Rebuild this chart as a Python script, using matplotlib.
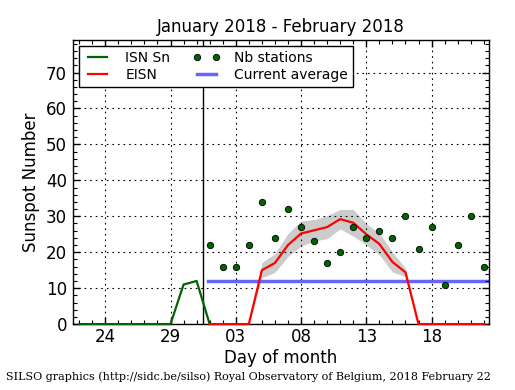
import matplotlib
matplotlib.use("Agg")
import matplotlib.pyplot as plt
from matplotlib.ticker import FixedLocator, MultipleLocator

# Day numbers: Jan = day of month, Feb = 31 + day of month
isn_days = list(range(22, 33))            # Jan 22 .. Feb 1
isn_sn = [0, 0, 0, 0, 0, 0, 0, 0, 11, 12, 0]

eisn_days = list(range(32, 54))           # Feb 1 .. Feb 22
eisn = [0, 0, 0, 0, 15, 17, 22, 25.2, 26.1, 27, 29.2, 28.2, 25, 22.3, 17.3, 14.4,
        0, 0, 0, 0, 0, 0]
eisn_err = [0, 0, 0, 0, 2.1, 2.6, 3.2, 3.5, 3.0, 3.2, 2.7, 3.7, 3.0, 3.0, 2.8, 1.2,
            0, 0, 0, 0, 0, 0]
nb_stations = [22, 16, 16, 22, 34, 24, 32, 27, 23, 17, 20, 27, 24, 26, 24, 30,
               21, 27, 11, 22, 30, 16]
current_average = 12.0

xtick_pos = [24, 29, 34, 39, 44, 49]
xtick_labels = ["24", "29", "03", "08", "13", "18"]
month_start = 31.5

fig = plt.figure(figsize=(5.15, 3.9), dpi=100)
ax = fig.add_axes([0.141, 0.169, 0.809, 0.728])

lo = [v - e for v, e in zip(eisn, eisn_err)]
hi = [v + e for v, e in zip(eisn, eisn_err)]
ax.fill_between(eisn_days, lo, hi, color="#cccccc", linewidth=0, zorder=1)

ax.plot(isn_days, isn_sn, color="#006400", lw=1.6, label="ISN Sn", zorder=3,
        clip_on=False)
ax.plot(eisn_days, eisn, color="red", lw=1.6, label="EISN", zorder=3,
        clip_on=False)
ax.plot(eisn_days, nb_stations, linestyle="none", marker="o", markersize=4.6,
        markerfacecolor="#006400", markeredgecolor="black", markeredgewidth=0.6,
        label="Nb stations", zorder=4)
ax.plot([month_start + 0.4, 54], [current_average, current_average],
        color="#6666ff", lw=2.5, label="Current average", zorder=2)
ax.axvline(month_start, color="black", lw=1, zorder=2)

ax.set_xlim(21.5, 53.42)
ax.set_ylim(0, 79)

ax.xaxis.set_major_locator(FixedLocator(xtick_pos))
ax.set_xticklabels(xtick_labels)
ax.xaxis.set_minor_locator(MultipleLocator(1))
ax.yaxis.set_major_locator(MultipleLocator(10))
ax.yaxis.set_minor_locator(MultipleLocator(2))
ax.tick_params(which="both", direction="in", top=True, right=True, labelsize=12)
ax.tick_params(which="major", length=5, width=1)
ax.tick_params(which="minor", length=3, width=0.8)
ax.tick_params(axis="x", pad=3)
ax.tick_params(axis="y", pad=4)
for s in ax.spines.values():
    s.set_linewidth(1)

ax.grid(True, which="major", linestyle=(0, (1.5, 3.5)), color="black", lw=0.8)
ax.set_axisbelow(False)

ax.set_title("January 2018 - February 2018", fontsize=12)
ax.set_xlabel("Day of month", fontsize=12, labelpad=2)
ax.set_ylabel("Sunspot Number", fontsize=12)

leg = ax.legend(loc="upper left", ncol=2, fontsize=10, numpoints=2,
                frameon=True, fancybox=False, borderaxespad=0.45,
                handlelength=2.0, columnspacing=1.6, handletextpad=1.0,
                labelspacing=0.2, borderpad=0.35)
leg.get_frame().set_edgecolor("black")
leg.get_frame().set_linewidth(1)
leg.get_frame().set_alpha(1)
leg.set_zorder(10)

fig.text(0.012, 0.025, "SILSO graphics (http://sidc.be/silso) Royal Observatory of Belgium, 2018 February 22",
         fontsize=8, family="DejaVu Serif")

fig.savefig("out.png", dpi=100)
